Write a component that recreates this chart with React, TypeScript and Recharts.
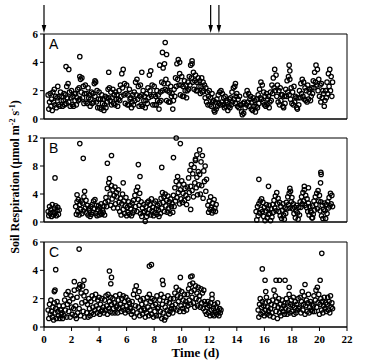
import React from 'react';
import { ScatterChart, Scatter, XAxis, YAxis, ReferenceArea, ReferenceLine, Label } from 'recharts';

// chamber sampling interval (d)
const STEP = 0.05;

const timeTicks = [0, 2, 4, 6, 8, 10, 12, 14, 16, 18, 20, 22];
const ticksA = [0, 2, 4, 6];
const ticksB = [0, 4, 8, 12];
const ticksC = [0, 2, 4, 6];
const arrowDays = [0, 12.1, 12.7];

// ---- panel A ----
const aStart = 0.3;
const aValues = [
  1.7, 0.7, 1.2, 1.8, 0.9, 1.4, 0.6, 1.9, 1.2, 2.1, 1.0, 1.6, 0.8, 1.5, 2.3, 1.0, 1.6, 0.9, 1.9, 1.3,
  1.6, 0.9, 1.3, 1.8, 1.0, 1.7, 1.1, 2.3, 1.5, 2.5, 1.2, 1.9, 0.9, 1.5, 2.0, 1.0, 1.6, 0.9, 1.8, 1.3,
  1.8, 1.0, 1.5, 2.1, 1.3, 2.2, 1.4, 2.8, 1.9, 2.9, 1.5, 2.3, 1.1, 1.8, 2.4, 1.2, 1.8, 1.1, 2.2, 1.5,
  1.7, 0.9, 1.4, 1.9, 1.1, 1.8, 1.2, 2.5, 1.6, 2.6, 1.2, 2.0, 0.8, 1.4, 1.9, 0.8, 1.4, 0.7, 1.7, 1.1,
  1.4, 0.6, 1.0, 1.6, 0.8, 1.5, 1.2, 2.1, 1.5, 2.2, 1.3, 1.9, 1.0, 1.5, 2.1, 1.1, 1.7, 1.0, 1.9, 1.4,
  1.7, 0.9, 1.4, 2.0, 1.3, 2.4, 1.6, 3.2, 2.2, 3.5, 1.7, 2.5, 1.1, 1.8, 2.4, 1.0, 1.7, 1.0, 2.1, 1.4,
  1.5, 0.8, 1.2, 1.7, 1.0, 1.9, 1.3, 2.6, 1.7, 2.8, 1.4, 2.3, 0.9, 1.6, 2.4, 1.0, 1.7, 0.9, 2.0, 1.3,
  1.6, 0.8, 1.3, 1.8, 1.1, 2.2, 1.5, 3.1, 2.0, 3.4, 1.6, 2.4, 1.0, 1.7, 2.3, 1.0, 1.6, 1.0, 2.0, 1.3,
  1.7, 0.7, 1.2, 1.9, 1.3, 2.6, 2.0, 3.6, 2.5, 3.9, 2.1, 2.8, 1.3, 2.0, 2.5, 1.2, 1.9, 1.2, 2.3, 1.6,
  1.8, 0.7, 1.3, 2.1, 1.6, 2.9, 2.3, 3.9, 2.8, 4.2, 2.4, 3.2, 1.7, 2.4, 3.0, 1.6, 2.3, 1.6, 2.7, 2.0,
  2.4, 1.5, 2.0, 2.6, 2.1, 3.0, 2.4, 3.8, 2.9, 4.1, 2.6, 3.3, 2.1, 2.7, 3.1, 2.0, 2.6, 2.0, 2.9, 2.3,
  2.7, 1.8, 2.3, 2.9, 1.9, 2.6, 2.0, 2.4, 1.5, 2.2, 1.2, 1.9, 1.0, 1.6, 2.0, 1.0, 1.5, 0.9, 1.8, 1.2,
  1.3, 0.6, 0.5, 1.2, 0.7, 1.4, 0.9, 1.7, 1.1, 1.9, 1.0, 2.0, 1.2, 1.8, 1.0, 1.5, 0.8, 1.6, 0.9, 1.3,
  1.2, 0.6, 0.9, 1.4, 0.8, 1.5, 1.0, 1.9, 1.2, 2.2, 1.4, 2.3, 1.1, 1.6, 1.8, 0.9, 1.4, 0.8, 1.6, 1.0,
  1.0, 0.5, 0.3, 1.1, 0.4, 1.2, 0.8, 1.7, 1.0, 2.0, 1.2, 1.8, 0.9, 1.4, 1.6, 0.7, 1.2, 0.6, 1.5, 0.9,
  1.3, 0.5, 0.9, 1.4, 0.8, 1.7, 1.1, 2.1, 1.5, 2.6, 1.4, 2.4, 1.2, 1.9, 1.0, 1.6, 0.9, 1.8, 1.0, 1.4,
  1.6, 0.8, 1.2, 1.9, 1.3, 2.4, 1.8, 2.9, 2.2, 3.5, 2.0, 3.1, 1.6, 2.4, 1.2, 2.0, 1.0, 2.2, 1.3, 1.7,
  1.7, 0.9, 0.8, 1.6, 1.1, 2.1, 1.6, 2.7, 1.9, 3.0, 1.7, 2.8, 1.4, 2.2, 1.1, 1.9, 1.0, 2.3, 1.2, 1.6,
  1.5, 0.8, 0.7, 1.5, 1.0, 2.0, 1.5, 2.5, 1.8, 2.8, 1.6, 2.6, 1.4, 2.2, 1.3, 2.0, 1.2, 2.4, 1.4, 1.9,
  2.1, 1.3, 1.6, 2.2, 1.8, 2.7, 2.2, 3.3, 2.6, 3.8, 2.4, 3.5, 2.0, 2.8, 1.6, 2.4, 1.2, 2.5, 1.5, 2.0,
  1.8, 0.9, 1.3, 2.0, 1.5, 2.6, 1.8, 3.2, 2.3, 3.5, 2.0, 3.0, 1.6, 2.6,
];
const aOutT = [1.6, 1.8, 2.6, 2.6, 4.7, 3.7, 7.1, 8.4, 8.6, 8.8, 8.9, 13.9, 17.8, 17.85, 9.85, 10.75];
const aOutV = [3.7, 3.5, 4.4, 3.0, 3.3, 2.7, 3.3, 3.8, 4.7, 5.4, 4.55, 2.5, 3.8, 3.4, 4.0, 3.9];

// ---- panel B ----
const b1Start = 0.3;
const b1Values = [1.5, 0.9, 2.2, 1.2, 1.8, 0.8, 2.5, 1.4, 1.0, 2.0, 1.3, 2.3, 0.9, 1.6, 2.1, 1.1, 1.7];
const b2Start = 2.3;
const b2Values = [
  2.2, 1.1, 2.9, 1.5, 3.2, 1.0, 2.5, 1.8, 3.0, 1.2, 2.7, 1.6, 3.6, 4.4, 2.0, 3.1, 1.3, 2.4, 1.0, 1.9,
  1.6, 0.8, 2.2, 1.1, 2.5, 1.4, 3.0, 1.9, 3.2, 1.2, 2.4, 0.9, 1.8, 2.3, 1.0, 2.0, 1.3, 2.6, 1.1, 1.7,
  1.4, 2.3, 1.0, 2.8, 3.5, 2.2, 4.8, 3.0, 5.6, 6.2, 4.0, 2.4, 5.2, 3.3, 4.6, 2.0, 3.8, 5.0, 2.6, 4.2,
  3.6, 2.0, 4.6, 2.8, 1.5, 3.4, 1.0, 2.6, 4.0, 1.8, 3.0, 1.2, 2.3, 3.5, 0.9, 2.1, 1.4, 2.9, 1.1, 2.4,
  1.9, 0.9, 2.7, 1.3, 3.1, 1.6, 3.8, 2.2, 4.5, 1.5, 5.0, 3.2, 2.4, 4.1, 1.2, 2.9, 0.8, 2.0, 1.4, 2.5,
  1.5, 0.1, 2.2, 0.8, 2.8, 1.2, 3.0, 1.8, 2.5, 1.0, 3.3, 1.6, 2.1, 0.9, 2.7, 1.3, 3.0, 1.9, 1.1, 2.4,
  1.7, 0.8, 2.6, 1.2, 3.4, 2.0, 4.2, 2.8, 3.6, 1.5, 4.0, 2.3, 3.1, 1.4, 3.7, 2.0, 2.9, 1.2, 3.3, 2.2,
  2.6, 1.4, 3.8, 2.2, 4.9, 3.0, 5.8, 3.5, 6.5, 4.2, 5.3, 2.6, 4.6, 3.3, 5.9, 2.8, 4.1, 5.4, 3.1, 4.8,
  3.8, 2.5, 5.0, 3.4, 6.3, 4.2, 7.4, 5.1, 8.2, 4.5, 6.9, 3.6, 7.8, 5.6, 9.0, 4.9, 6.4, 3.9, 7.2, 5.3,
  6.8, 4.0, 8.6, 5.2, 9.5, 3.4, 7.3, 5.8, 8.0, 4.4, 6.1,
];
const b3Start = 11.9;
const b3Values = [2.4, 1.4, 3.0, 1.8, 3.6, 2.1, 1.3, 2.7, 1.6, 3.2, 2.0, 1.5, 2.5];
const b4Start = 15.4;
const b4Values = [
  1.5, 0.3, 2.2, 0.9, 2.6, 1.3, 3.0, 1.8, 3.3, 1.5, 2.8, 0.8, 2.1, 0.2, 1.6, 2.5, 0.6, 1.9, 1.1, 2.4,
  1.2, 0.2, 1.9, 0.7, 2.5, 1.4, 3.1, 2.0, 3.7, 1.6, 4.2, 2.6, 3.4, 1.5, 2.8, 0.9, 2.2, 0.5, 1.7, 2.6,
  1.0, 0.4, 2.0, 1.2, 2.8, 1.9, 3.6, 2.5, 4.1, 2.0, 4.4, 2.9, 3.5, 1.9, 2.6, 1.2, 2.1, 0.6, 1.6, 2.4,
  1.3, 0.4, 2.1, 1.0, 2.9, 2.1, 3.6, 2.6, 4.2, 3.0, 4.6, 2.4, 3.8, 2.1, 3.3, 1.5, 2.7, 1.0, 2.2, 1.6,
  1.4, 0.6, 2.3, 1.1, 3.0, 1.7, 3.6, 2.5, 4.1, 1.9, 4.5, 3.0, 3.8, 1.6, 2.9, 0.9, 2.4, 0.5, 1.8, 2.7,
  1.6, 0.5, 2.5, 1.2, 2.9, 2.0, 3.5, 2.3, 4.1, 2.6, 3.8, 2.2,
];
const bOutT = [0.8, 2.4, 2.6, 2.85, 4.6, 4.9, 5.75, 6.85, 6.97, 8.55, 9.4, 9.6, 9.9, 11.3, 11.1, 11.0, 10.65,
  15.6, 16.3, 17.85, 18.9, 19.2, 20.1, 20.12, 20.08, 19.5];
const bOutV = [6.3, 3.9, 11.2, 9.1, 8.4, 9.5, 5.6, 8.2, 6.5, 7.8, 9.2, 12.0, 11.2, 10.3, 9.6, 8.8, 1.8,
  6.1, 5.1, 4.8, 5.1, 4.9, 7.1, 6.8, 5.6, 0.6];

// ---- panel C ----
const c1Start = 0.3;
const c1Values = [
  1.2, 0.6, 1.6, 0.9, 1.9, 1.1, 0.7, 1.4, 0.5, 1.7, 1.0, 1.3, 0.6, 1.8, 1.1, 0.8, 1.5, 0.6, 1.2, 0.9,
  1.0, 0.6, 1.5, 0.8, 1.9, 1.2, 2.3, 0.7, 1.6, 2.5, 1.1, 1.8, 0.7, 2.2, 1.4, 0.9, 2.0, 1.3, 2.6, 0.8,
  1.5, 0.6, 2.1, 1.0, 2.7, 1.3, 3.0, 0.8, 2.4, 1.7, 2.9, 1.1, 2.2, 0.7, 1.8, 2.5, 1.0, 1.6, 0.7, 2.0,
  1.3, 0.8, 1.8, 1.0, 2.2, 1.4, 0.9, 2.0, 1.2, 2.3, 1.5, 1.0, 1.9, 1.3, 2.1, 0.9, 1.6, 1.1, 2.0, 1.2,
  1.4, 1.0, 1.9, 1.2, 2.2, 1.5, 0.9, 2.3, 1.3, 1.8, 1.1, 2.1, 1.6, 1.0, 2.0, 1.3, 1.7, 1.0, 2.2, 1.4,
  1.5, 1.0, 1.9, 1.3, 2.3, 1.6, 1.1, 2.0, 1.4, 2.2, 1.2, 1.8, 1.0, 2.1, 1.5, 1.2, 1.9, 1.1, 1.7, 1.4,
  1.3, 0.9, 1.8, 1.1, 2.3, 0.7, 2.6, 1.5, 2.9, 1.0, 2.1, 1.4, 2.5, 0.8, 1.9, 1.2, 1.6, 0.9, 2.0, 1.3,
  1.2, 0.7, 1.7, 1.0, 2.1, 1.4, 0.8, 2.3, 1.2, 1.8, 0.9, 2.0, 1.5, 0.7, 1.9, 1.1, 1.6, 0.8, 2.2, 1.3,
  1.4, 0.8, 1.9, 1.1, 2.3, 0.6, 1.6, 1.0, 2.1, 0.5, 1.4, 0.7, 1.8, 1.2, 2.2, 0.9, 1.7, 1.1, 2.0, 1.3,
  1.5, 1.0, 2.0, 1.3, 2.4, 1.6, 2.8, 1.2, 2.2, 1.8, 2.6, 1.1, 2.1, 1.5, 2.5, 1.3, 1.9, 1.1, 2.3, 1.6,
  1.8, 1.2, 2.3, 1.5, 2.7, 1.9, 3.0, 1.6, 2.5, 2.1, 3.1, 1.7, 2.6, 1.4, 2.9, 2.0, 2.4, 1.5, 2.8, 1.9,
  2.2, 1.4, 2.7, 1.7, 2.4, 1.3, 2.6, 1.8, 1.1, 1.6, 0.9, 1.4, 1.8, 1.0, 1.5, 0.8, 1.7, 1.2, 2.0, 0.9,
  1.3, 0.8, 1.6, 1.0, 1.4, 0.9, 1.7, 1.1, 0.8, 1.3, 1.0, 1.2,
];
const c2Start = 15.55;
const c2Values = [
  1.2, 0.7, 1.6, 2.0, 0.9, 1.4, 1.8, 1.0, 1.5, 0.8, 1.7, 1.2, 2.1, 0.9, 1.4, 1.1, 1.8, 0.8, 1.3, 1.6,
  1.0, 1.9, 0.7, 2.6, 1.5, 2.2, 1.1, 1.8, 0.6, 1.4, 2.0, 1.0, 1.6, 0.8, 1.3, 1.9, 1.1, 1.5, 0.9, 1.7,
  1.3, 2.0, 0.9, 1.7, 1.2, 2.3, 1.0, 1.6, 1.9, 1.1, 1.5, 2.1, 0.9, 1.4, 1.8, 1.0, 1.6, 1.2, 2.0, 1.3,
  1.4, 2.1, 1.0, 1.8, 2.5, 1.2, 1.6, 2.2, 0.9, 1.5, 1.9, 1.1, 1.7, 2.3, 1.0, 1.4, 1.8, 1.2, 1.6, 1.1,
  1.5, 2.2, 1.1, 1.9, 2.6, 1.4, 2.8, 1.7, 2.3, 0.9, 1.6, 2.0, 1.2, 1.8, 1.0, 1.5, 2.1, 1.3, 1.7, 1.1,
  1.6, 2.1, 1.2, 1.8, 1.0, 2.2, 1.4, 1.7, 1.3,
];
const cOutT = [0.85, 0.8, 0.75, 2.55, 2.6, 2.2, 2.9, 4.75, 4.9, 4.85, 7.65, 7.8, 8.6, 8.65, 9.9, 10.65, 10.75,
  12.2, 15.85, 16.05, 16.1, 16.85, 17.1, 17.5, 17.8, 18.95, 20.05, 20.17];
const cOutV = [4.05, 2.6, 2.5, 5.5, 2.8, 3.2, 3.3, 3.95, 3.5, 3.05, 4.3, 4.4, 3.3, 3.0, 3.5, 3.55, 3.6,
  2.3, 4.1, 3.3, 2.5, 3.3, 3.3, 3.3, 2.8, 3.0, 3.3, 5.2];

type Pt = { t: number; v: number };

const toPoints = (segs: [number, number[]][], outT: number[], outV: number[]): Pt[] => {
  const pts: Pt[] = [];
  segs.forEach(([start, vals]) => {
    vals.forEach((v, i) => pts.push({ t: +(start + i * STEP).toFixed(3), v }));
  });
  outT.forEach((t, i) => pts.push({ t, v: outV[i] }));
  return pts;
};

const dataA = toPoints([[aStart, aValues]], aOutT, aOutV);
const dataB = toPoints([[b1Start, b1Values], [b2Start, b2Values], [b3Start, b3Values], [b4Start, b4Values]], bOutT, bOutV);
const dataC = toPoints([[c1Start, c1Values], [c2Start, c2Values]], cOutT, cOutV);

const W = 392;
const H = 362;
const PLOT_LEFT = 44;
const PLOT_RIGHT = 347;
const Y_AXIS_W = 30;
const X_AXIS_H = 30;

const serifTick = { fontFamily: 'Liberation Serif, Times New Roman, serif', fontWeight: 700, fontSize: 11, fill: '#000' };

const Ring = (p: any) => (
  <circle cx={p.cx} cy={p.cy} r={2.2} fill="none" stroke="#000" strokeWidth={1.25} />
);

const Arrow = (p: any) => {
  const x = p.x1;
  const top = Math.min(p.y1, p.y2);
  return (
    <g>
      <line x1={x} x2={x} y1={top - 29} y2={top - 6} stroke="#000" strokeWidth={1.2} />
      <polygon points={`${x - 2.3},${top - 9} ${x + 2.3},${top - 9} ${x},${top - 1}`} fill="#000" />
    </g>
  );
};

const YTitle = (props: any) => {
  const vb = props.viewBox;
  const cy = vb.y + vb.height / 2 - 3;
  const cx = 19;
  return (
    <text
      x={cx}
      y={cy}
      transform={`rotate(-90, ${cx}, ${cy})`}
      textAnchor="middle"
      fontFamily="Liberation Serif, Times New Roman, serif"
      fontWeight={700}
      fontSize={12}
      fill="#000"
    >
      <tspan>Soil Respiration (μmol m</tspan>
      <tspan dy={-4} fontSize={8}>-2</tspan>
      <tspan dy={4}> s</tspan>
      <tspan dy={-4} fontSize={8}>-1</tspan>
      <tspan dy={4}>)</tspan>
    </text>
  );
};

interface PanelProps {
  letter: string;
  data: Pt[];
  yMax: number;
  yTicks: number[];
  top: number;
  bottom: number;
  timeLabels?: boolean;
  arrows?: boolean;
  yTitle?: boolean;
}

const Panel: React.FC<PanelProps> = ({ letter, data, yMax, yTicks, top, bottom, timeLabels, arrows, yTitle }) => (
  <div style={{ position: 'absolute', left: 0, top: 0 }}>
    <ScatterChart
      width={W}
      height={H}
      margin={{ top, right: W - PLOT_RIGHT, left: PLOT_LEFT - Y_AXIS_W, bottom: H - bottom - X_AXIS_H }}
    >
      <XAxis
        dataKey="t"
        type="number"
        domain={[0, 22]}
        ticks={timeTicks}
        height={X_AXIS_H}
        tickSize={4}
        tickMargin={4}
        tick={timeLabels ? serifTick : false}
        axisLine={{ stroke: '#000' }}
        tickLine={{ stroke: '#000' }}
      >
        {timeLabels && (
          <Label
            value="Time (d)"
            position="insideBottom"
            offset={0}
            fontFamily="Liberation Serif, Times New Roman, serif"
            fontWeight={700}
            fontSize={13}
            fill="#000"
          />
        )}
      </XAxis>
      <YAxis
        dataKey="v"
        type="number"
        domain={[0, yMax]}
        ticks={yTicks}
        width={Y_AXIS_W}
        tickSize={4}
        tick={serifTick}
        axisLine={{ stroke: '#000' }}
        tickLine={{ stroke: '#000' }}
      >
        {yTitle && <Label content={YTitle} />}
      </YAxis>
      <Scatter data={data} dataKey="v" shape={Ring} isAnimationActive={false} />
      <ReferenceArea x1={0} x2={22} y1={0} y2={yMax} fill="none" stroke="#000" strokeWidth={1}>
        <Label
          value={letter}
          position="insideTopLeft"
          offset={5}
          fontFamily="Liberation Sans, Arial, sans-serif"
          fontSize={14}
          fill="#000"
        />
      </ReferenceArea>
      {arrows && arrowDays.map((d) => (
        <ReferenceLine key={d} x={d} shape={Arrow} />
      ))}
    </ScatterChart>
  </div>
);

export default function App() {
  return (
    <div style={{ position: 'absolute', left: 0, top: 0, width: W, height: H, background: '#fff' }}>
      <Panel letter="A" data={dataA} yMax={6} yTicks={ticksA} top={34} bottom={119} arrows />
      <Panel letter="B" data={dataB} yMax={12} yTicks={ticksB} top={138} bottom={222} yTitle />
      <Panel letter="C" data={dataC} yMax={6} yTicks={ticksC} top={242} bottom={327} timeLabels />
    </div>
  );
}
